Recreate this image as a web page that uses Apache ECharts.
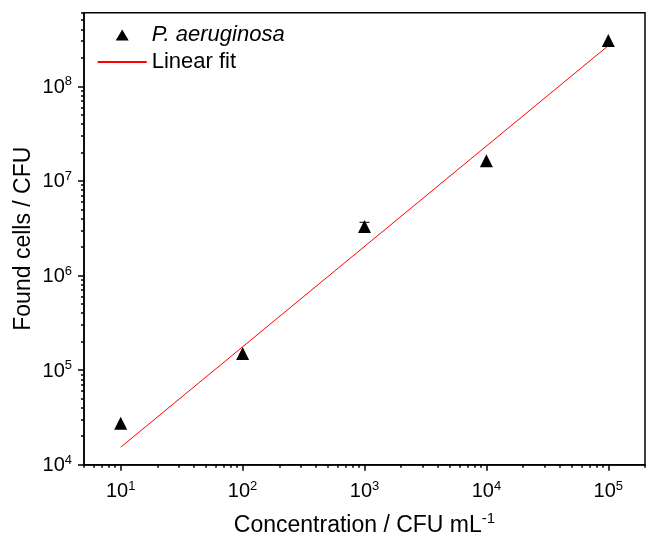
<!DOCTYPE html>
<html><head><meta charset="utf-8">
<script src="https://cdn.jsdelivr.net/npm/echarts@6/dist/echarts.min.js"></script>
<style>html,body{margin:0;padding:0;background:#fff}#c{width:647px;height:536px}</style>
</head><body><div id="c"></div>
<script>
// ---- data ----
const concentrations = [10, 100, 1000, 10000, 100000];
const foundCells = [2.75e4, 1.5e5, 3.3e6, 1.63e7, 3.05e8];
const errX = [1000];
const errLow = [2.95e6];
const errHigh = [3.65e6];
const fitX = [10, 100000];
const fitY = [1.53e4, 2.69e8];
const xMajorTicks = [10, 100, 1000, 10000, 100000];
const xTickExponents = ['1', '2', '3', '4', '5'];
const yMajorTicks = [1e4, 1e5, 1e6, 1e7, 1e8];
const yTickExponents = ['4', '5', '6', '7', '8'];
const xMinorTicks = [5, 6, 7, 8, 9, 20, 30, 40, 50, 60, 70, 80, 90, 200, 300, 400, 500, 600, 700, 800, 900,
  2000, 3000, 4000, 5000, 6000, 7000, 8000, 9000, 20000, 30000, 40000, 50000, 60000, 70000, 80000, 90000, 200000];
const yMinorTicks = [2e4, 3e4, 4e4, 5e4, 6e4, 7e4, 8e4, 9e4, 2e5, 3e5, 4e5, 5e5, 6e5, 7e5, 8e5, 9e5,
  2e6, 3e6, 4e6, 5e6, 6e6, 7e6, 8e6, 9e6, 2e7, 3e7, 4e7, 5e7, 6e7, 7e7, 8e7, 9e7, 2e8, 3e8, 4e8, 5e8, 6e8];
const seriesName = 'P. aeruginosa';
const fitName = 'Linear fit';
const xTitle = 'Concentration / CFU mL';
const xTitleSup = '-1';
const yTitle = 'Found cells / CFU';

// ---- chart ----
const F = '"Liberation Sans", Arial, sans-serif';
const chart = echarts.init(document.getElementById('c'), null, {renderer: 'canvas'});
const rich = {
  b: {fontSize: 20, fontFamily: F, color: '#000', verticalAlign: 'bottom'},
  s: {fontSize: 13, fontFamily: F, color: '#000', verticalAlign: 'bottom', padding: [0, 0, 9, 0]}
};
function fmt(ticks, exps) {
  return function (v) {
    for (let i = 0; i < ticks.length; i++) {
      if (Math.abs(Math.log10(ticks[i]) - Math.log10(v)) < 1e-6) return '{b|10}{s|' + exps[i] + '}';
    }
    return '';
  };
}
const lineSt = {color: '#000', width: 1.5};
const xMin = 5, xMax = 2e5, yMin = 1e4, yMax = 6e8;
// legend icon: triangle centred in a 49x11 box (extra moveTo points set the box)
const triIcon = 'path://M0,0 M49,11 M18,11 L24.5,0 L31,11 Z';

chart.setOption({
  animation: false,
  backgroundColor: '#fff',
  grid: {left: 84, right: 2, top: 12.7, bottom: 71.3, show: true, borderColor: '#000', borderWidth: 1.5,
    backgroundColor: 'transparent', outerBoundsMode: 'none', containLabel: false},
  legend: {
    orient: 'vertical', left: 91.7, top: 19, itemWidth: 49, itemHeight: 11, itemGap: 5,
    textStyle: {fontSize: 22, fontFamily: F, color: '#000'},
    data: [
      {name: seriesName, icon: triIcon, itemStyle: {color: '#000', opacity: 1}, textStyle: {fontStyle: 'italic'}},
      {name: fitName, itemStyle: {opacity: 0}}
    ]
  },
  xAxis: [{
    type: 'log', logBase: 10, min: xMin, max: xMax, position: 'bottom',
    axisLine: {show: true, lineStyle: lineSt},
    axisTick: {show: true, inside: false, length: 6, lineStyle: lineSt, customValues: xMajorTicks},
    axisLabel: {show: true, customValues: xMajorTicks, margin: 15, formatter: fmt(xMajorTicks, xTickExponents), rich: rich},
    splitLine: {show: false}, minorTick: {show: false},
    name: '{t|' + xTitle + '}{s|' + xTitleSup + '}', nameLocation: 'middle', nameGap: 47,
    nameTextStyle: {rich: {
      t: {fontSize: 23, fontFamily: F, color: '#000', verticalAlign: 'bottom'},
      s: {fontSize: 15, fontFamily: F, color: '#000', verticalAlign: 'bottom', padding: [0, 0, 10, 0]}
    }}
  }, {
    type: 'log', logBase: 10, min: xMin, max: xMax, position: 'bottom',
    axisLine: {show: false},
    axisTick: {show: true, inside: false, length: 3, lineStyle: lineSt, customValues: xMinorTicks},
    axisLabel: {show: false}, splitLine: {show: false}
  }],
  yAxis: [{
    type: 'log', logBase: 10, min: yMin, max: yMax, position: 'left',
    axisLine: {show: true, lineStyle: lineSt},
    axisTick: {show: true, inside: false, length: 6, lineStyle: lineSt, customValues: yMajorTicks},
    axisLabel: {show: true, customValues: yMajorTicks, margin: 12, formatter: fmt(yMajorTicks, yTickExponents), rich: rich},
    splitLine: {show: false}, minorTick: {show: false},
    name: yTitle, nameLocation: 'middle', nameGap: 49, nameRotate: 90, nameMoveOverlap: false,
    nameTextStyle: {fontSize: 23, fontFamily: F, color: '#000'}
  }, {
    type: 'log', logBase: 10, min: yMin, max: yMax, position: 'left',
    axisLine: {show: false},
    axisTick: {show: true, inside: false, length: 3, lineStyle: lineSt, customValues: yMinorTicks},
    axisLabel: {show: false}, splitLine: {show: false}
  }],
  series: [{
    name: fitName, type: 'line', xAxisIndex: 0, yAxisIndex: 0, z: 2,
    data: fitX.map((x, i) => [x, fitY[i]]),
    showSymbol: false, symbol: 'none', lineStyle: {color: '#ff0000', width: 1}, itemStyle: {color: '#ff0000'}
  }, {
    name: 'err', type: 'custom', xAxisIndex: 0, yAxisIndex: 0, z: 3,
    data: errX.map((x, i) => [x, errLow[i], errHigh[i]]),
    renderItem: function (params, api) {
      const lo = api.coord([api.value(0), api.value(1)]);
      const hi = api.coord([api.value(0), api.value(2)]);
      const hw = 5;
      const st = {stroke: '#000', lineWidth: 1};
      return {type: 'group', children: [
        {type: 'line', shape: {x1: lo[0], y1: lo[1], x2: hi[0], y2: hi[1]}, style: st},
        {type: 'line', shape: {x1: lo[0] - hw, y1: lo[1], x2: lo[0] + hw, y2: lo[1]}, style: st},
        {type: 'line', shape: {x1: hi[0] - hw, y1: hi[1], x2: hi[0] + hw, y2: hi[1]}, style: st}
      ]};
    }
  }, {
    name: seriesName, type: 'scatter', xAxisIndex: 0, yAxisIndex: 0, z: 4,
    symbol: 'triangle', symbolSize: 13,
    data: concentrations.map((x, i) => [x, foundCells[i]]),
    itemStyle: {color: '#000', opacity: 1}
  }]
});
</script></body></html>
